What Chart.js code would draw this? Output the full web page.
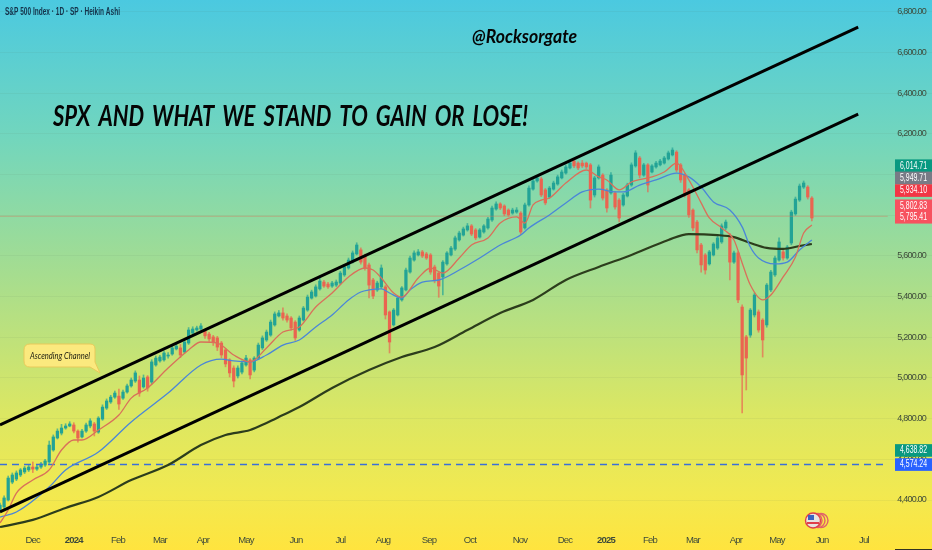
<!DOCTYPE html>
<html>
<head>
<meta charset="utf-8">
<title>SPX Heikin Ashi</title>
<script src="https://cdn.jsdelivr.net/npm/chart.js@4"></script>
<style>
html, body { margin: 0; padding: 0; width: 932px; height: 550px; overflow: hidden; }
body { background: linear-gradient(180deg, #4bc9e0 0%, #72d6bd 25%, #a6dd8f 50%, #dbe763 75%, #f2e950 90%, #ffe43e 100%); }
canvas { display: block; }
</style>
</head>
<body>
<canvas id="spxChart" width="932" height="550"></canvas>
<script>
// one bar every two sessions
var openVals = [
4351,4366,4400,4488,4503,4523,4538,4548,4562,4552,4562,4572,4587,4646,4705,4729,4754,4764,4769,4739,
4710,4739,4764,4774,4734,4798,4852,4882,4906,4911,4901,4931,4961,4985,4990,4956,5005,4980,5064,5084,
5089,5108,5118,5143,5148,5128,5172,5221,5236,5241,5231,5216,5202,5197,5172,5138,5089,5049,5010,5029,
5064,5089,5039,5098,5148,5187,5211,5261,5305,5320,5305,5295,5275,5236,5285,5334,5393,5403,5438,5472,
5462,5452,5457,5467,5507,5541,5570,5610,5630,5600,5556,5482,5433,5448,5448,5325,5261,5310,5384,5433,
5521,5580,5605,5620,5610,5605,5546,5516,5497,5561,5605,5634,5679,5703,5728,5748,5728,5693,5718,5738,
5777,5831,5856,5846,5826,5811,5816,5811,5738,5851,5929,5969,5979,5925,5890,5929,5954,5984,6008,6033,
6067,6057,6057,6057,6048,5900,5984,5998,5925,5910,5910,5875,5851,5895,5949,6043,6082,5998,6048,6013,
6038,6048,6057,6077,6097,6111,6048,5998,5925,5826,5767,5654,5605,5561,5605,5639,5669,5738,5703,5570,
5615,5349,5202,5211,5310,5325,5285,5261,5433,5507,5580,5620,5590,5664,5807,5875,5939,5939,5885];
var closeVals = [
4375,4410,4508,4523,4533,4548,4557,4562,4552,4562,4577,4592,4670,4710,4739,4754,4764,4774,4739,4705,
4739,4769,4789,4739,4803,4857,4887,4906,4926,4872,4931,4961,4990,5025,4926,5000,4951,5079,5098,5103,
5123,5113,5148,5157,5113,5177,5236,5241,5246,5256,5207,5192,5177,5152,5113,5069,5025,4985,5049,5074,
5098,5015,5098,5162,5197,5226,5275,5315,5320,5295,5285,5246,5197,5295,5344,5398,5423,5448,5477,5452,
5448,5467,5472,5516,5546,5580,5615,5654,5570,5541,5457,5403,5467,5541,5310,5177,5334,5393,5443,5531,
5590,5615,5620,5600,5590,5521,5482,5452,5570,5615,5639,5689,5713,5733,5748,5708,5689,5728,5748,5782,
5836,5856,5836,5807,5802,5826,5826,5718,5851,5934,5969,5984,5900,5861,5934,5959,5989,6013,6038,6057,
6043,6033,6043,6038,5875,5984,6038,5885,5836,5998,5841,5787,5900,5949,6048,6107,5998,6048,5949,6043,
6057,6067,6082,6107,6121,6023,5974,5900,5802,5738,5630,5556,5531,5620,5659,5689,5748,5767,5570,5615,
5384,5015,5098,5334,5408,5236,5187,5457,5521,5590,5669,5590,5644,5816,5880,5944,5959,5890,5787];
var highVals = [
4385,4420,4518,4533,4543,4555,4565,4570,4587,4572,4585,4600,4690,4720,4750,4772,4775,4785,4780,4745,
4748,4778,4800,4782,4810,4868,4897,4915,4936,4945,4940,4970,5000,5035,5010,5015,5012,5090,5108,5112,
5132,5125,5158,5168,5165,5187,5248,5252,5255,5268,5240,5225,5210,5205,5180,5145,5095,5060,5060,5085,
5112,5095,5105,5172,5207,5236,5285,5325,5332,5345,5315,5302,5282,5305,5352,5408,5432,5458,5490,5480,
5470,5475,5482,5525,5556,5590,5625,5665,5640,5610,5565,5490,5476,5556,5455,5330,5342,5400,5450,5540,
5600,5625,5632,5628,5618,5612,5555,5523,5578,5622,5648,5698,5722,5742,5760,5755,5735,5735,5755,5790,
5845,5866,5862,5852,5832,5835,5838,5818,5860,5945,5980,5994,5988,5932,5942,5968,5998,6023,6047,6067,
6080,6063,6070,6062,6055,5992,6048,6005,5932,6010,5918,5882,5908,5958,6058,6118,6090,6056,6055,6050,
6066,6076,6090,6116,6132,6118,6055,6006,5932,5832,5775,5662,5612,5628,5666,5698,5758,5777,5712,5624,
5622,5360,5210,5342,5418,5335,5292,5465,5530,5600,5689,5630,5652,5825,5890,5954,5969,5946,5892];
var lowVals = [
4340,4356,4395,4480,4495,4515,4530,4540,4535,4545,4555,4565,4580,4640,4700,4720,4748,4760,4730,4685,
4705,4732,4755,4715,4728,4792,4845,4875,4900,4845,4895,4925,4955,4978,4910,4950,4935,4970,5058,5078,
5083,5098,5112,5138,5100,5122,5165,5215,5230,5235,5195,5180,5160,5135,5100,5055,5005,4956,5000,5020,
5058,4995,5030,5090,5140,5180,5205,5255,5300,5285,5275,5235,5185,5230,5280,5328,5388,5398,5432,5445,
5440,5445,5450,5460,5500,5535,5565,5605,5560,5530,5394,5390,5426,5440,5290,5123,5255,5305,5378,5428,
5515,5575,5600,5592,5583,5510,5468,5397,5408,5555,5600,5628,5673,5698,5722,5700,5680,5688,5712,5732,
5770,5825,5828,5798,5795,5805,5810,5705,5732,5845,5924,5963,5892,5852,5884,5924,5948,5979,6002,6028,
6035,6025,6035,6030,5836,5890,5978,5875,5816,5904,5830,5767,5845,5890,5943,6037,5984,5992,5915,6008,
6032,6043,6052,6072,6092,6013,5962,5890,5790,5725,5615,5521,5511,5555,5600,5632,5662,5730,5482,5564,
5370,4828,4941,5200,5300,5225,5103,5250,5425,5500,5575,5580,5584,5655,5800,5868,5932,5880,5772];

// moving averages, sampled at these bars
var ema20Bars = [0,2,4,8,12,15,18,20,24,29,32,36,41,46,49,53,57,61,65,69,73,77,81,85,89,91,93,96,98,102,105,108,112,115,119,122,126,128,130,132,134,138,143,146,148,151,154,159,162,165,168,171,173,176,179,181,183,186,188,191,194,196,198];
var ema20 = [4287,4351,4434,4498,4548,4646,4695,4695,4744,4818,4901,4951,5049,5138,5177,5172,5113,5079,5148,5226,5251,5349,5418,5497,5541,5531,5492,5418,5398,5492,5541,5516,5590,5654,5689,5762,5792,5762,5851,5875,5885,5959,6023,5989,5974,5925,5964,5989,6013,6057,5974,5861,5787,5738,5679,5566,5457,5384,5408,5497,5595,5713,5752];
var ema50Bars = [0,4,12,16,24,32,41,49,54,57,61,65,69,73,77,81,85,88,90,93,95,98,100,103,107,112,117,122,127,129,134,138,142,146,150,152,156,160,165,168,171,174,178,181,183,185,189,192,195,198];
var ema50 = [4316,4341,4464,4548,4636,4784,4926,5064,5093,5084,5079,5113,5162,5187,5251,5310,5384,5423,5433,5438,5418,5393,5433,5472,5482,5531,5590,5654,5703,5738,5802,5861,5915,5929,5915,5915,5949,5974,6008,5989,5939,5866,5826,5743,5644,5590,5561,5570,5630,5679];
var ema200Bars = [0,8,16,24,32,41,49,55,61,65,69,73,81,90,98,106,114,122,130,138,146,154,163,168,175,179,183,187,191,195,198];
var ema200 = [4267,4302,4361,4415,4498,4572,4670,4720,4744,4779,4818,4857,4951,5039,5103,5152,5236,5320,5384,5482,5546,5605,5679,5708,5703,5693,5664,5640,5635,5649,5659];

// trend lines and horizontal levels: [start, end]
var channelBars = [0, 209.3];
var channelUpper = [4769, 6726];
var channelLower = [4341, 6298];
var levelBars = [0, 216.5];
var lastPrice = 5795.41;
var supportPrice = 4574.24;

// axis labels
var priceTicks = [6800,6600,6400,6200,6000,5800,5600,5400,5200,5000,4800,4600,4400];
var monthLabels = ['Dec','2024','Feb','Mar','Apr','May','Jun','Jul','Aug','Sep','Oct','Nov','Dec','2025','Feb','Mar','Apr','May','Jun','Jul'];
var monthBars = [8,18,28.8,39,49.5,60,72.2,83,93.4,104.6,114.6,126.8,137.8,147.8,158.5,169,179.5,189.5,200.5,210.7];

// price tags on the right
var tagLabels = ['6,014.71','5,949.71','5,934.10','5,802.83','5,795.41','4,638.82','4,574.24'];
var tagColors = ['#089981','#787b86','#f23645','#f7525f','#f7525f','#089981','#2962ff'];
var tagPrices = [6014.71,5949.71,5934.10,5802.83,5795.41,4638.82,4574.24];
var tagShift = [-6,-7,2.5,-9,1,-1,0];

var UP = '#22a396', DOWN = '#ea6450';
var SANS = '"Liberation Sans", sans-serif';

function pairs(xs, ys) {
    return xs.map(function (x, i) { return { x: x, y: ys[i] }; });
}
var barColors = closeVals.map(function (c, i) { return c >= openVals[i] ? UP : DOWN; });

function lineSet(xs, ys, color, width, extra) {
    return Object.assign({
        type: 'line', data: pairs(xs, ys), borderColor: color, borderWidth: width,
        pointRadius: 0, fill: false, order: 1, cubicInterpolationMode: 'monotone'
    }, extra || {});
}

// annotations drawn over the chart
var annotations = {
    id: 'annotations',
    beforeDraw: function (chart) {
        // axis labels in the picture are squeezed, tighten them
        chart.ctx.letterSpacing = '-0.8px';
    },
    afterDraw: function (chart) {
        var c = chart.ctx, y = chart.scales.y;
        c.save();
        c.letterSpacing = '0px';
        c.textBaseline = 'alphabetic';
        c.textAlign = 'left';
        c.fillStyle = '#14324a';
        c.font = 'bold 10px ' + SANS;
        c.fillText('S&P 500 Index · 1D · SP · Heikin Ashi', 5, 15, 115);

        c.fillStyle = '#050505';
        c.wordSpacing = '4px';
        c.font = 'italic bold 28px Lato, ' + SANS;
        c.fillText('SPX AND WHAT WE STAND TO GAIN OR LOSE!', 53, 126, 475);
        c.wordSpacing = '0px';
        c.font = 'italic bold 19px Lato, ' + SANS;
        c.fillText('@Rocksorgate', 472, 43, 105);

        // callout
        c.beginPath();
        c.moveTo(30, 344);
        c.lineTo(90, 344);
        c.quadraticCurveTo(95, 344, 95, 349);
        c.lineTo(95, 362);
        c.lineTo(100, 373);
        c.lineTo(90, 367);
        c.lineTo(30, 367);
        c.quadraticCurveTo(24, 367, 24, 361);
        c.lineTo(24, 350);
        c.quadraticCurveTo(24, 344, 30, 344);
        c.closePath();
        c.fillStyle = '#fbe97e';
        c.fill();
        c.strokeStyle = '#e8c95a';
        c.lineWidth = 1;
        c.stroke();
        c.fillStyle = '#1c1c10';
        c.font = 'italic 10px Lato, ' + SANS;
        c.fillText('Ascending Channel', 30, 359, 60);

        // price tags
        c.font = '10.5px ' + SANS;
        c.textAlign = 'right';
        c.textBaseline = 'middle';
        tagLabels.forEach(function (t, i) {
            var py = y.getPixelForValue(tagPrices[i]) + tagShift[i];
            c.fillStyle = tagColors[i];
            c.fillRect(895, py - 6.3, 37, 12.6);
            c.fillStyle = '#ffffff';
            c.fillText(t, 927, py, 27);
        });

        // flag badge
        c.strokeStyle = '#e0606a';
        c.lineWidth = 1.4;
        [828, 825, 822].forEach(function (bx) {
            c.beginPath();
            c.arc(bx - 7, 520.5, 7, 0, Math.PI * 2);
            c.stroke();
        });
        c.beginPath();
        c.arc(813, 520.5, 7.5, 0, Math.PI * 2);
        c.fillStyle = '#e8e4e0';
        c.fill();
        c.strokeStyle = '#e0404a';
        c.stroke();
        c.fillStyle = '#e0404a';
        c.fillRect(807, 522, 12, 2);
        c.fillStyle = '#3a62c0';
        c.fillRect(808, 515, 6, 5);

        // dark edge under the price axis
        c.fillStyle = '#333322';
        c.fillRect(895, 549, 37, 1);
        c.restore();
    }
};

var ctx = document.getElementById('spxChart').getContext('2d');
var spxChart = new Chart(ctx, {
    type: 'bar',
    data: {
        datasets: [
            lineSet(channelBars, channelUpper, '#000000', 3, { order: 0 }),
            lineSet(channelBars, channelLower, '#000000', 3, { order: 0 }),
            lineSet(ema20Bars, ema20, '#d9705a', 1.3),
            lineSet(ema50Bars, ema50, '#4a86d8', 1.3),
            lineSet(ema200Bars, ema200, '#2c3d1c', 2.2),
            lineSet(levelBars, [lastPrice, lastPrice], 'rgba(215,120,90,0.45)', 1, { order: 2 }),
            lineSet(levelBars, [supportPrice, supportPrice], '#3a6fd8', 1.4, { borderDash: [7, 5], order: 2 }),
            {
                label: 'wicks',
                data: lowVals.map(function (l, i) { return { x: i, y: [l, highVals[i]] }; }),
                backgroundColor: barColors.map(function (b) { return b + 'b0'; }),
                barThickness: 1, grouped: false, order: 4
            },
            {
                label: 'bodies',
                data: openVals.map(function (o, i) { return { x: i, y: [o, closeVals[i]] }; }),
                backgroundColor: barColors,
                barThickness: 2.6, grouped: false, order: 3
            }
        ]
    },
    options: {
        responsive: false,
        animation: false,
        layout: { padding: 0, autoPadding: false },
        plugins: { legend: { display: false }, tooltip: { enabled: false } },
        scales: {
            x: {
                type: 'linear', min: 0, max: 227.3, offset: false,
                grid: { display: false, drawTicks: false },
                border: { display: false },
                afterFit: function (s) { s.height = 0; },
                afterBuildTicks: function (s) {
                    s.ticks = monthBars.map(function (v) { return { value: v }; });
                },
                ticks: {
                    // with mirror on, a larger padding moves the labels up from the bottom edge
                    mirror: true, autoSkip: false, maxRotation: 0, padding: 4, color: '#3d4a3a',
                    font: function (c) {
                        var t = c.tick ? monthLabels[monthBars.indexOf(c.tick.value)] : '';
                        return { family: SANS, size: 9.5, weight: /^20/.test(t) ? 'bold' : 'normal' };
                    },
                    callback: function (v) { return monthLabels[monthBars.indexOf(v)]; }
                }
            },
            y: {
                type: 'linear', position: 'right', min: 4154.1, max: 6859,
                grid: { display: true, color: 'rgba(90,110,80,0.07)', lineWidth: 1, drawTicks: false },
                border: { display: false },
                afterFit: function (s) { s.width = 0; },
                afterBuildTicks: function (s) {
                    s.ticks = priceTicks.map(function (v) { return { value: v }; });
                },
                ticks: {
                    mirror: true, padding: -6, color: '#3d4a3a',
                    font: { family: SANS, size: 9 },
                    callback: function (v) {
                        return v.toLocaleString('en-US', { minimumFractionDigits: 2 });
                    }
                }
            }
        }
    },
    plugins: [annotations]
});
</script>
</body>
</html>
